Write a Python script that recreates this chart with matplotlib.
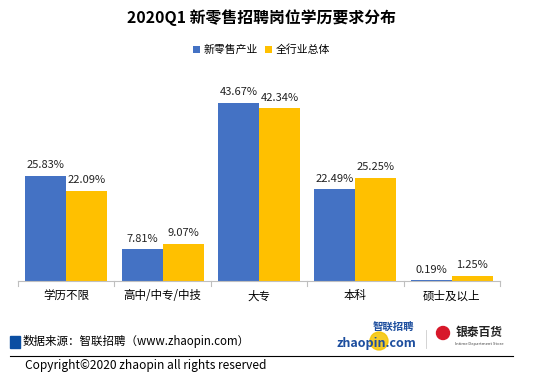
import matplotlib.pyplot as plt
import numpy as np
from matplotlib.patches import Rectangle, Circle

plt.rcParams['font.family'] = ['Noto Sans CJK SC', 'DejaVu Sans']

# Data
categories = ["学历不限", "高中/中专/中技", "大专", "本科", "硕士及以上"]
new_retail = [25.83, 7.81, 43.67, 22.49, 0.19]
all_industry = [22.09, 9.07, 42.34, 25.25, 1.25]
series_names = ["新零售产业", "全行业总体"]

blue = "#4472C4"
yellow = "#FFC000"

fig = plt.figure(figsize=(5.49, 3.84), dpi=100)
ax = fig.add_axes([0.0328, 0.268, 0.878, 0.532])


def px(xp, yp):
    # pixel position (from top-left) -> inches for dpi_scale_trans
    return (xp / 100, (384 - yp) / 100)


x = np.arange(len(categories))
w = 0.425
b1 = ax.bar(x - w / 2, new_retail, w, color=blue, label=series_names[0])
b2 = ax.bar(x + w / 2, all_industry, w, color=yellow, label=series_names[1])

for bars, vals in ((b1, new_retail), (b2, all_industry)):
    for rect, v in zip(bars, vals):
        ax.annotate(f"{v:.2f}%", (rect.get_x() + rect.get_width() / 2, v),
                    xytext=(0, 4), textcoords="offset points",
                    ha="center", va="bottom", fontsize=8, color="#222222")

ax.set_xlim(-0.5, len(categories) - 0.5)
ax.set_ylim(0, 50)
ax.set_yticks([])
for s in ("left", "right", "top"):
    ax.spines[s].set_visible(False)
ax.spines["bottom"].set_color("#BFBFBF")
ax.set_xticks(x)
ax.set_xticklabels(categories, fontsize=8.3)
ax.tick_params(axis="x", length=0, pad=6)
# boundary tick marks
for b in np.arange(-0.5, len(categories), 1.0):
    ax.plot([b, b], [0, -1.3], color="#BFBFBF", lw=0.8, clip_on=False)

fig.text(0.476, 0.953, "2020Q1 新零售招聘岗位学历要求分布", ha="center", va="center",
         fontsize=11.4, fontweight="bold")
ax.legend(loc="center", bbox_to_anchor=(0.476, 0.870), bbox_transform=fig.transFigure,
          ncol=2, frameon=False, fontsize=7.8, handlelength=0.7, handleheight=0.7,
          handletextpad=0.3, columnspacing=0.6)

# footer
fig.patches.append(Rectangle((10 / 549, 1 - 348 / 384), 10 / 549, 12 / 384,
                             transform=fig.transFigure, color="#0B4EA2"))
fig.text(23 / 549, 1 - 342 / 384, "数据来源：智联招聘（www.zhaopin.com）",
         ha="left", va="center", fontsize=8.3)
fig.add_artist(plt.Line2D([10 / 549, 513 / 549], [1 - 356 / 384, 1 - 356 / 384],
                          transform=fig.transFigure, color="black", lw=0.8))
fig.text(25 / 549, 1 - 366 / 384, "Copyright©2020 zhaopin all rights reserved",
         ha="left", va="center", fontsize=8.6)

# logos (text approximations)
fig.patches.append(Circle(px(379, 341), 0.09, transform=fig.dpi_scale_trans,
                          color="#F5C400", alpha=0.85))
fig.text(393 / 549, 1 - 327 / 384, "智联招聘", ha="center", va="center",
         fontsize=7.5, color="#1D4E9E", fontweight="bold", style="italic")
fig.text(376 / 549, 1 - 343 / 384, "zhaopin.com", ha="center", va="center",
         fontsize=9, color="#1D4E9E", fontweight="bold", style="italic")
fig.add_artist(plt.Line2D([426 / 549, 426 / 549], [1 - 348 / 384, 1 - 330 / 384],
                          transform=fig.transFigure, color="#CCCCCC", lw=0.6))
fig.patches.append(Circle(px(443, 333), 0.065, transform=fig.dpi_scale_trans,
                          color="#D7182A"))
fig.text(479 / 549, 1 - 332 / 384, "银泰百货", ha="center", va="center",
         fontsize=8.5, color="#222222", fontweight="bold")
fig.text(479 / 549, 1 - 344 / 384, "Intime Department Store", ha="center", va="center",
         fontsize=3, color="#444444")

fig.savefig("out.png", dpi=100)
